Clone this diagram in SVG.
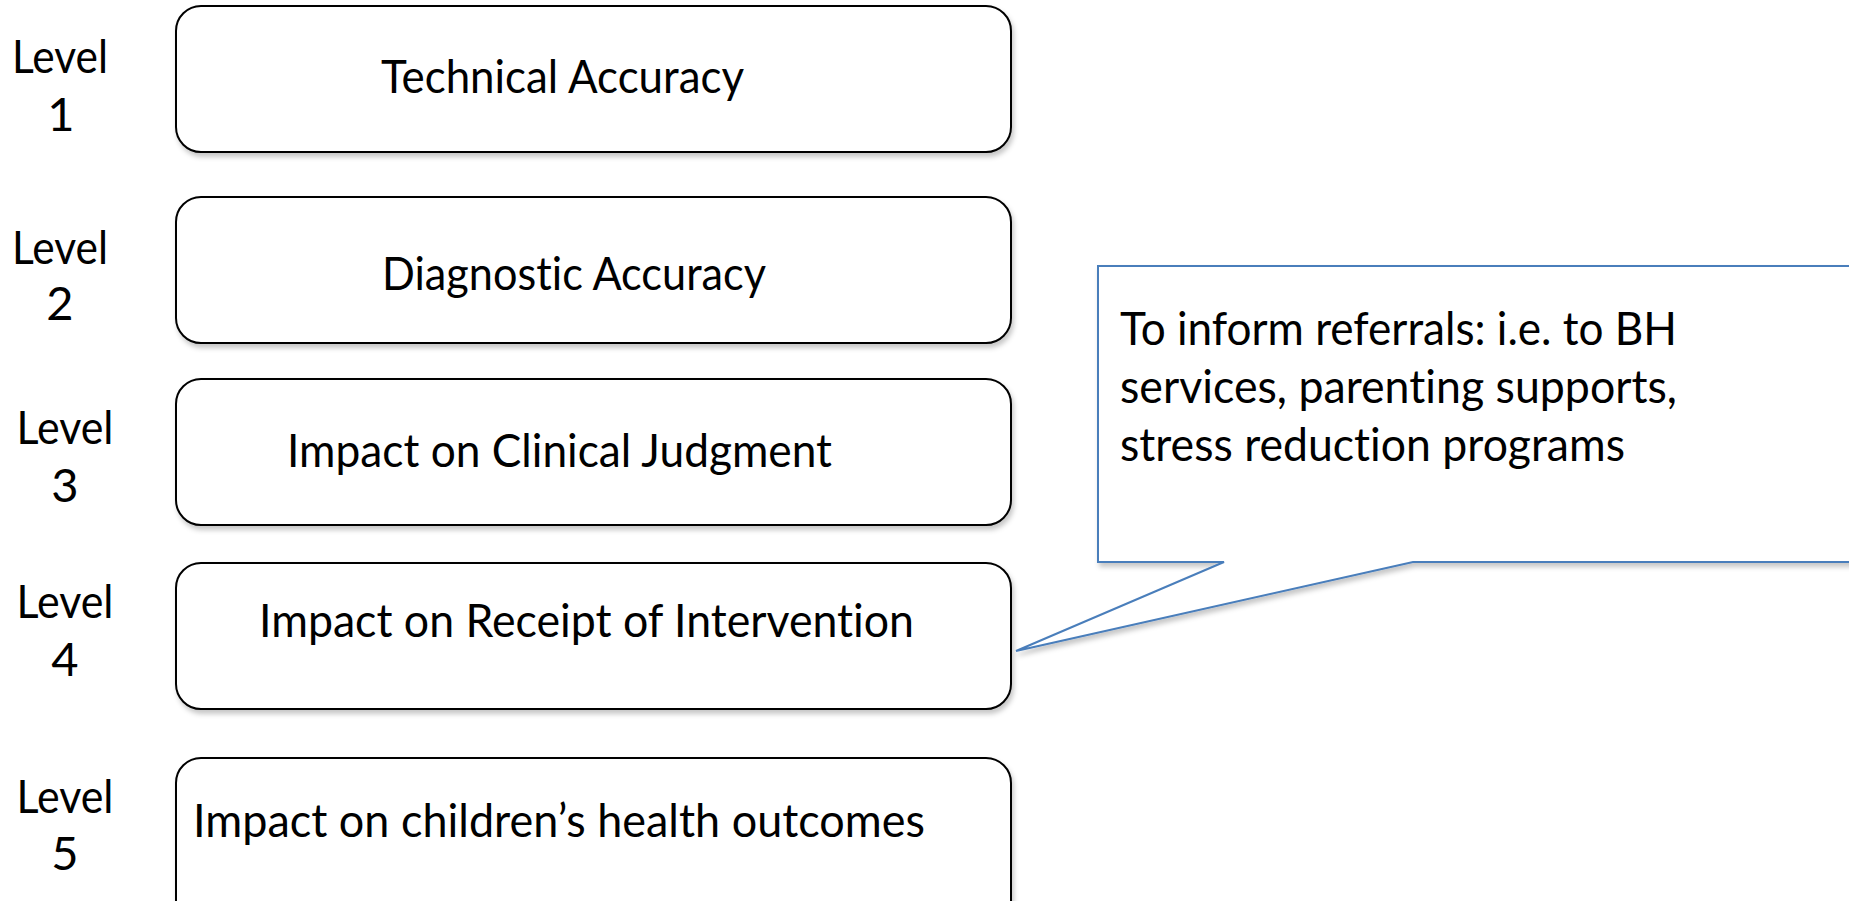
<svg xmlns="http://www.w3.org/2000/svg" width="1849" height="901" viewBox="0 0 1849 901">
<style>
.box{fill:#fff;stroke:#000;stroke-width:2;filter:url(#sh)}
.callout{fill:#fff;stroke:#4A7EBB;stroke-width:2;stroke-linejoin:miter;filter:url(#sh)}
text{font-family:Lato,"Open Sans","Liberation Sans",sans-serif;font-size:47px;fill:#000;font-variant-ligatures:none;font-feature-settings:"liga" 0,"clig" 0}
.lv{text-anchor:middle}
</style>
<defs>
<filter id="sh" x="-5%" y="-5%" width="110%" height="115%">
<feDropShadow dx="2" dy="4" stdDeviation="2.5" flood-color="#000" flood-opacity="0.22"/>
</filter>
</defs>
<g id="level1">
<rect class="box" x="176" y="6" width="835" height="146" rx="25"/>
<text class="lv" x="60" y="73" textLength="96" lengthAdjust="spacingAndGlyphs">Level</text>
<text class="lv" x="61" y="131">1</text>
<text x="381" y="93" textLength="363" lengthAdjust="spacingAndGlyphs">Technical Accuracy</text>
</g>
<g id="level2">
<rect class="box" x="176" y="197" width="835" height="146" rx="25"/>
<text class="lv" x="60" y="264" textLength="96" lengthAdjust="spacingAndGlyphs">Level</text>
<text class="lv" x="60" y="320">2</text>
<text x="382" y="290" textLength="384" lengthAdjust="spacingAndGlyphs">Diagnostic Accuracy</text>
</g>
<g id="level3">
<rect class="box" x="176" y="379" width="835" height="146" rx="25"/>
<text class="lv" x="65" y="444" textLength="97" lengthAdjust="spacingAndGlyphs">Level</text>
<text class="lv" x="65" y="502">3</text>
<text x="287" y="467" textLength="545" lengthAdjust="spacingAndGlyphs">Impact on Clinical Judgment</text>
</g>
<g id="level4">
<rect class="box" x="176" y="563" width="835" height="146" rx="25"/>
<text class="lv" x="65" y="618" textLength="97" lengthAdjust="spacingAndGlyphs">Level</text>
<text class="lv" x="65" y="676">4</text>
<text x="259" y="637" textLength="655" lengthAdjust="spacingAndGlyphs">Impact on Receipt of Intervention</text>
</g>
<g id="level5">
<rect class="box" x="176" y="758" width="835" height="170" rx="25"/>
<text class="lv" x="65" y="813" textLength="97" lengthAdjust="spacingAndGlyphs">Level</text>
<text class="lv" x="65" y="870">5</text>
<text x="193" y="837" textLength="732" lengthAdjust="spacingAndGlyphs">Impact on children’s health outcomes</text>
</g>
<g id="connectors">
<g id="callout">
<path class="callout" d="M1098,266 H1870 V562 H1413 L1016,651 L1224,562 H1098 Z"/>
<text x="1120" y="345" textLength="557" lengthAdjust="spacingAndGlyphs">To inform referrals: i.e. to BH</text>
<text x="1120" y="403" textLength="557" lengthAdjust="spacingAndGlyphs">services, parenting supports,</text>
<text x="1120" y="461" textLength="505" lengthAdjust="spacingAndGlyphs">stress reduction programs</text>
</g>
</g>
</svg>
